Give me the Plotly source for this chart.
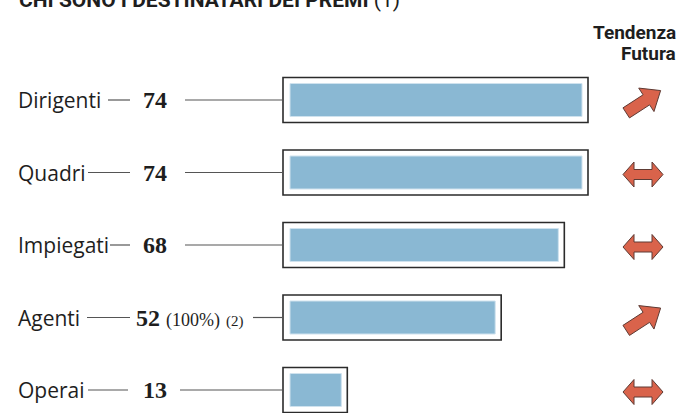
import math
import plotly.graph_objects as go

# ---- data ----
categories = ["Dirigenti", "Quadri", "Impiegati", "Agenti", "Operai"]
values = [74, 74, 68, 52, 13]
value_notes = ["", "", "", "(100%)", ""]
note_refs = ["", "", "", "(2)", ""]
trend = ["up", "flat", "flat", "up", "flat"]
title_text = "CHI SONO I DESTINATARI DEI PREMI"
title_ref = "(1)"
trend_title = ["Tendenza", "Futura"]

# ---- layout constants (pixels) ----
W, H = 678, 413
BAR0_PX = 290            # pixel where value 0 sits
PX_PER_UNIT = 292 / 74   # horizontal scale
ROW0_PX, ROW_STEP = 100, 72.5
PAD_L, PAD_R = 7 / PX_PER_UNIT, 6 / PX_PER_UNIT

def px2x(px):
    return (px - BAR0_PX) / PX_PER_UNIT

x_range = [px2x(0), px2x(W)]
y_range = [(H - ROW0_PX) / ROW_STEP, -ROW0_PX / ROW_STEP]
rows = list(range(len(categories)))

fig = go.Figure()
# outer white frame
fig.add_trace(go.Bar(
    y=rows, x=[v + PAD_L + PAD_R for v in values], base=[-PAD_L] * len(values),
    orientation="h", width=45 / ROW_STEP,
    marker=dict(color="white", line=dict(color="#2b2b2b", width=1.6)),
    hoverinfo="skip", showlegend=False))
# inner blue bar
fig.add_trace(go.Bar(
    y=rows, x=values, orientation="h", width=33 / ROW_STEP,
    marker=dict(color="#8ab8d3", line=dict(color="#cfe2ee", width=1)),
    text=categories, hovertemplate="%{text}: %{x}<extra></extra>", textposition="none",
    showlegend=False))

label_font = dict(family="Open Sans", size=21, color="#1e1e1e")
num_font = dict(family="Liberation Serif", size=24, color="#1e1e1e")
line_style = dict(color="#555555", width=1.2)

dash_start = [108, 88, 110, 87, 88]
dash_end = [130, 130, 130, 130, 128]
num_px = [141, 141, 141, 134, 141]
conn_start = [185, 185, 185, 253, 180]

shapes = []
annotations = []
for i, (cat, v) in enumerate(zip(categories, values)):
    annotations.append(dict(x=16 / W, y=i, xref="paper", yref="y", text=cat,
                            showarrow=False, xanchor="left", yanchor="middle",
                            font=label_font))
    num_text = "<b>%d</b>" % v
    if value_notes[i]:
        num_text += " <span style='font-size:18px'>%s</span>" % value_notes[i]
    if note_refs[i]:
        num_text += " <span style='font-size:15px'>%s</span>" % note_refs[i]
    annotations.append(dict(x=num_px[i] / W, y=i, xref="paper", yref="y", text=num_text,
                            showarrow=False, xanchor="left", yanchor="middle",
                            font=num_font))
    shapes.append(dict(type="line", xref="x", yref="y", x0=px2x(dash_start[i]),
                       x1=px2x(dash_end[i]), y0=i, y1=i, line=line_style))
    shapes.append(dict(type="line", xref="x", yref="y", x0=px2x(conn_start[i]),
                       x1=-PAD_L, y0=i, y1=i, line=line_style))

# trend arrows
def path_from(pts):
    return "M " + " L ".join("%.2f,%.2f" % p for p in pts) + " Z"

flat_pts = [(-20, 0), (-9, 12.5), (-9, 5), (9, 5), (9, 12.5), (20, 0),
            (9, -12.5), (9, -5), (-9, -5), (-9, -12.5)]
base_up = [(-20, 6), (4, 6), (4, 14), (21, 0), (4, -14), (4, -6), (-20, -6)]
ang = math.radians(33)
up_pts = [(x * math.cos(ang) - y * math.sin(ang), x * math.sin(ang) + y * math.cos(ang))
          for x, y in base_up]
for i, t in enumerate(trend):
    pts = up_pts if t == "up" else flat_pts
    shapes.append(dict(type="path", xref="paper", yref="y", xsizemode="pixel",
                       ysizemode="pixel", xanchor=643 / W, yanchor=i,
                       path=path_from([(x, y - 2) for x, y in pts]),
                       fillcolor="#d9634b", line=dict(color="#5e3b34", width=1)))

# titles
annotations.append(dict(x=17 / W, y=1 - 14 / H, xref="paper", yref="paper",
                        text="<b>%s</b> %s" % (title_text, title_ref), showarrow=False,
                        xanchor="left", yanchor="bottom",
                        font=dict(family="Roboto", size=21, color="#1e1e1e")))
for j, t in enumerate(trend_title):
    annotations.append(dict(x=678 / W, y=1 - (33 + 20 * j) / H, xref="paper", yref="paper",
                            text="<b>%s</b>" % t, showarrow=False,
                            xanchor="right", yanchor="middle",
                            font=dict(family="Roboto", size=19, color="#1e1e1e")))

fig.update_layout(
    width=W, height=H, margin=dict(l=0, r=0, t=0, b=0),
    paper_bgcolor="white", plot_bgcolor="white", barmode="overlay",
    xaxis=dict(range=x_range, visible=False, fixedrange=True),
    yaxis=dict(range=y_range, visible=False, fixedrange=True),
    shapes=shapes, annotations=annotations)

fig.write_html("out.html")
